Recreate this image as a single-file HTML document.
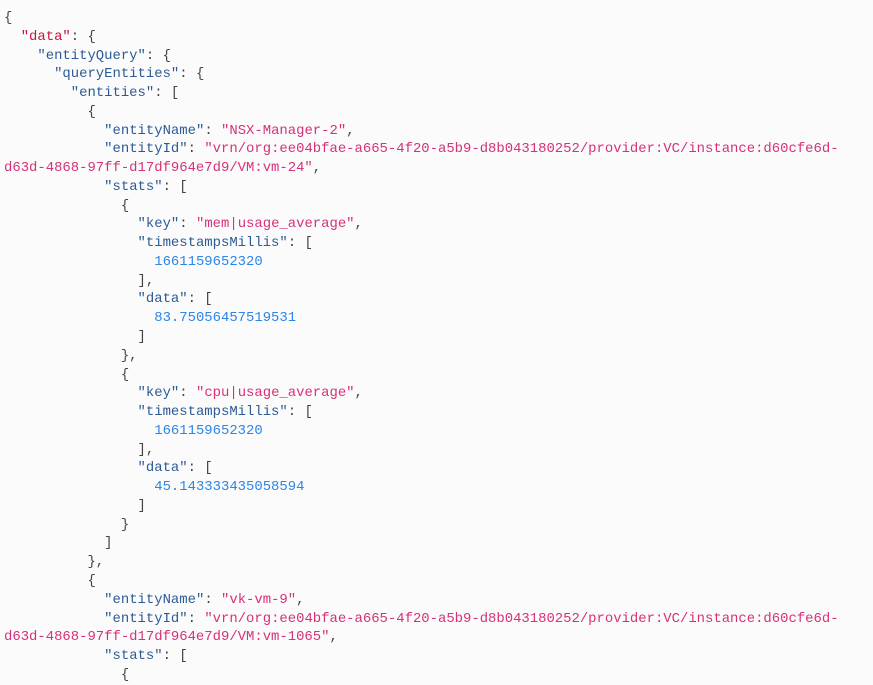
<!DOCTYPE html>
<html><head><meta charset="utf-8"><style>
html,body{margin:0;padding:0;background:#fbfbfb;width:873px;height:670px;overflow:hidden}
pre{margin:0;position:absolute;left:4px;top:9px;font-family:"Liberation Mono",monospace;font-size:13.92px;line-height:18.76px;color:#444;white-space:pre}
.k{color:#2d5b95}.r{color:#c8143f}.s{color:#d6317a}.n{color:#2b86e8}
</style></head><body>
<pre>{
  <span class="r">"data"</span>: {
    <span class="k">"entityQuery"</span>: {
      <span class="k">"queryEntities"</span>: {
        <span class="k">"entities"</span>: [
          {
            <span class="k">"entityName"</span>: <span class="s">"NSX-Manager-2"</span>,
            <span class="k">"entityId"</span>: <span class="s">"vrn/org:ee04bfae-a665-4f20-a5b9-d8b043180252/provider:VC/instance:d60cfe6d-
d63d-4868-97ff-d17df964e7d9/VM:vm-24"</span>,
            <span class="k">"stats"</span>: [
              {
                <span class="k">"key"</span>: <span class="s">"mem|usage_average"</span>,
                <span class="k">"timestampsMillis"</span>: [
                  <span class="n">1661159652320</span>
                ],
                <span class="k">"data"</span>: [
                  <span class="n">83.75056457519531</span>
                ]
              },
              {
                <span class="k">"key"</span>: <span class="s">"cpu|usage_average"</span>,
                <span class="k">"timestampsMillis"</span>: [
                  <span class="n">1661159652320</span>
                ],
                <span class="k">"data"</span>: [
                  <span class="n">45.143333435058594</span>
                ]
              }
            ]
          },
          {
            <span class="k">"entityName"</span>: <span class="s">"vk-vm-9"</span>,
            <span class="k">"entityId"</span>: <span class="s">"vrn/org:ee04bfae-a665-4f20-a5b9-d8b043180252/provider:VC/instance:d60cfe6d-
d63d-4868-97ff-d17df964e7d9/VM:vm-1065"</span>,
            <span class="k">"stats"</span>: [
              {</pre>
</body></html>
